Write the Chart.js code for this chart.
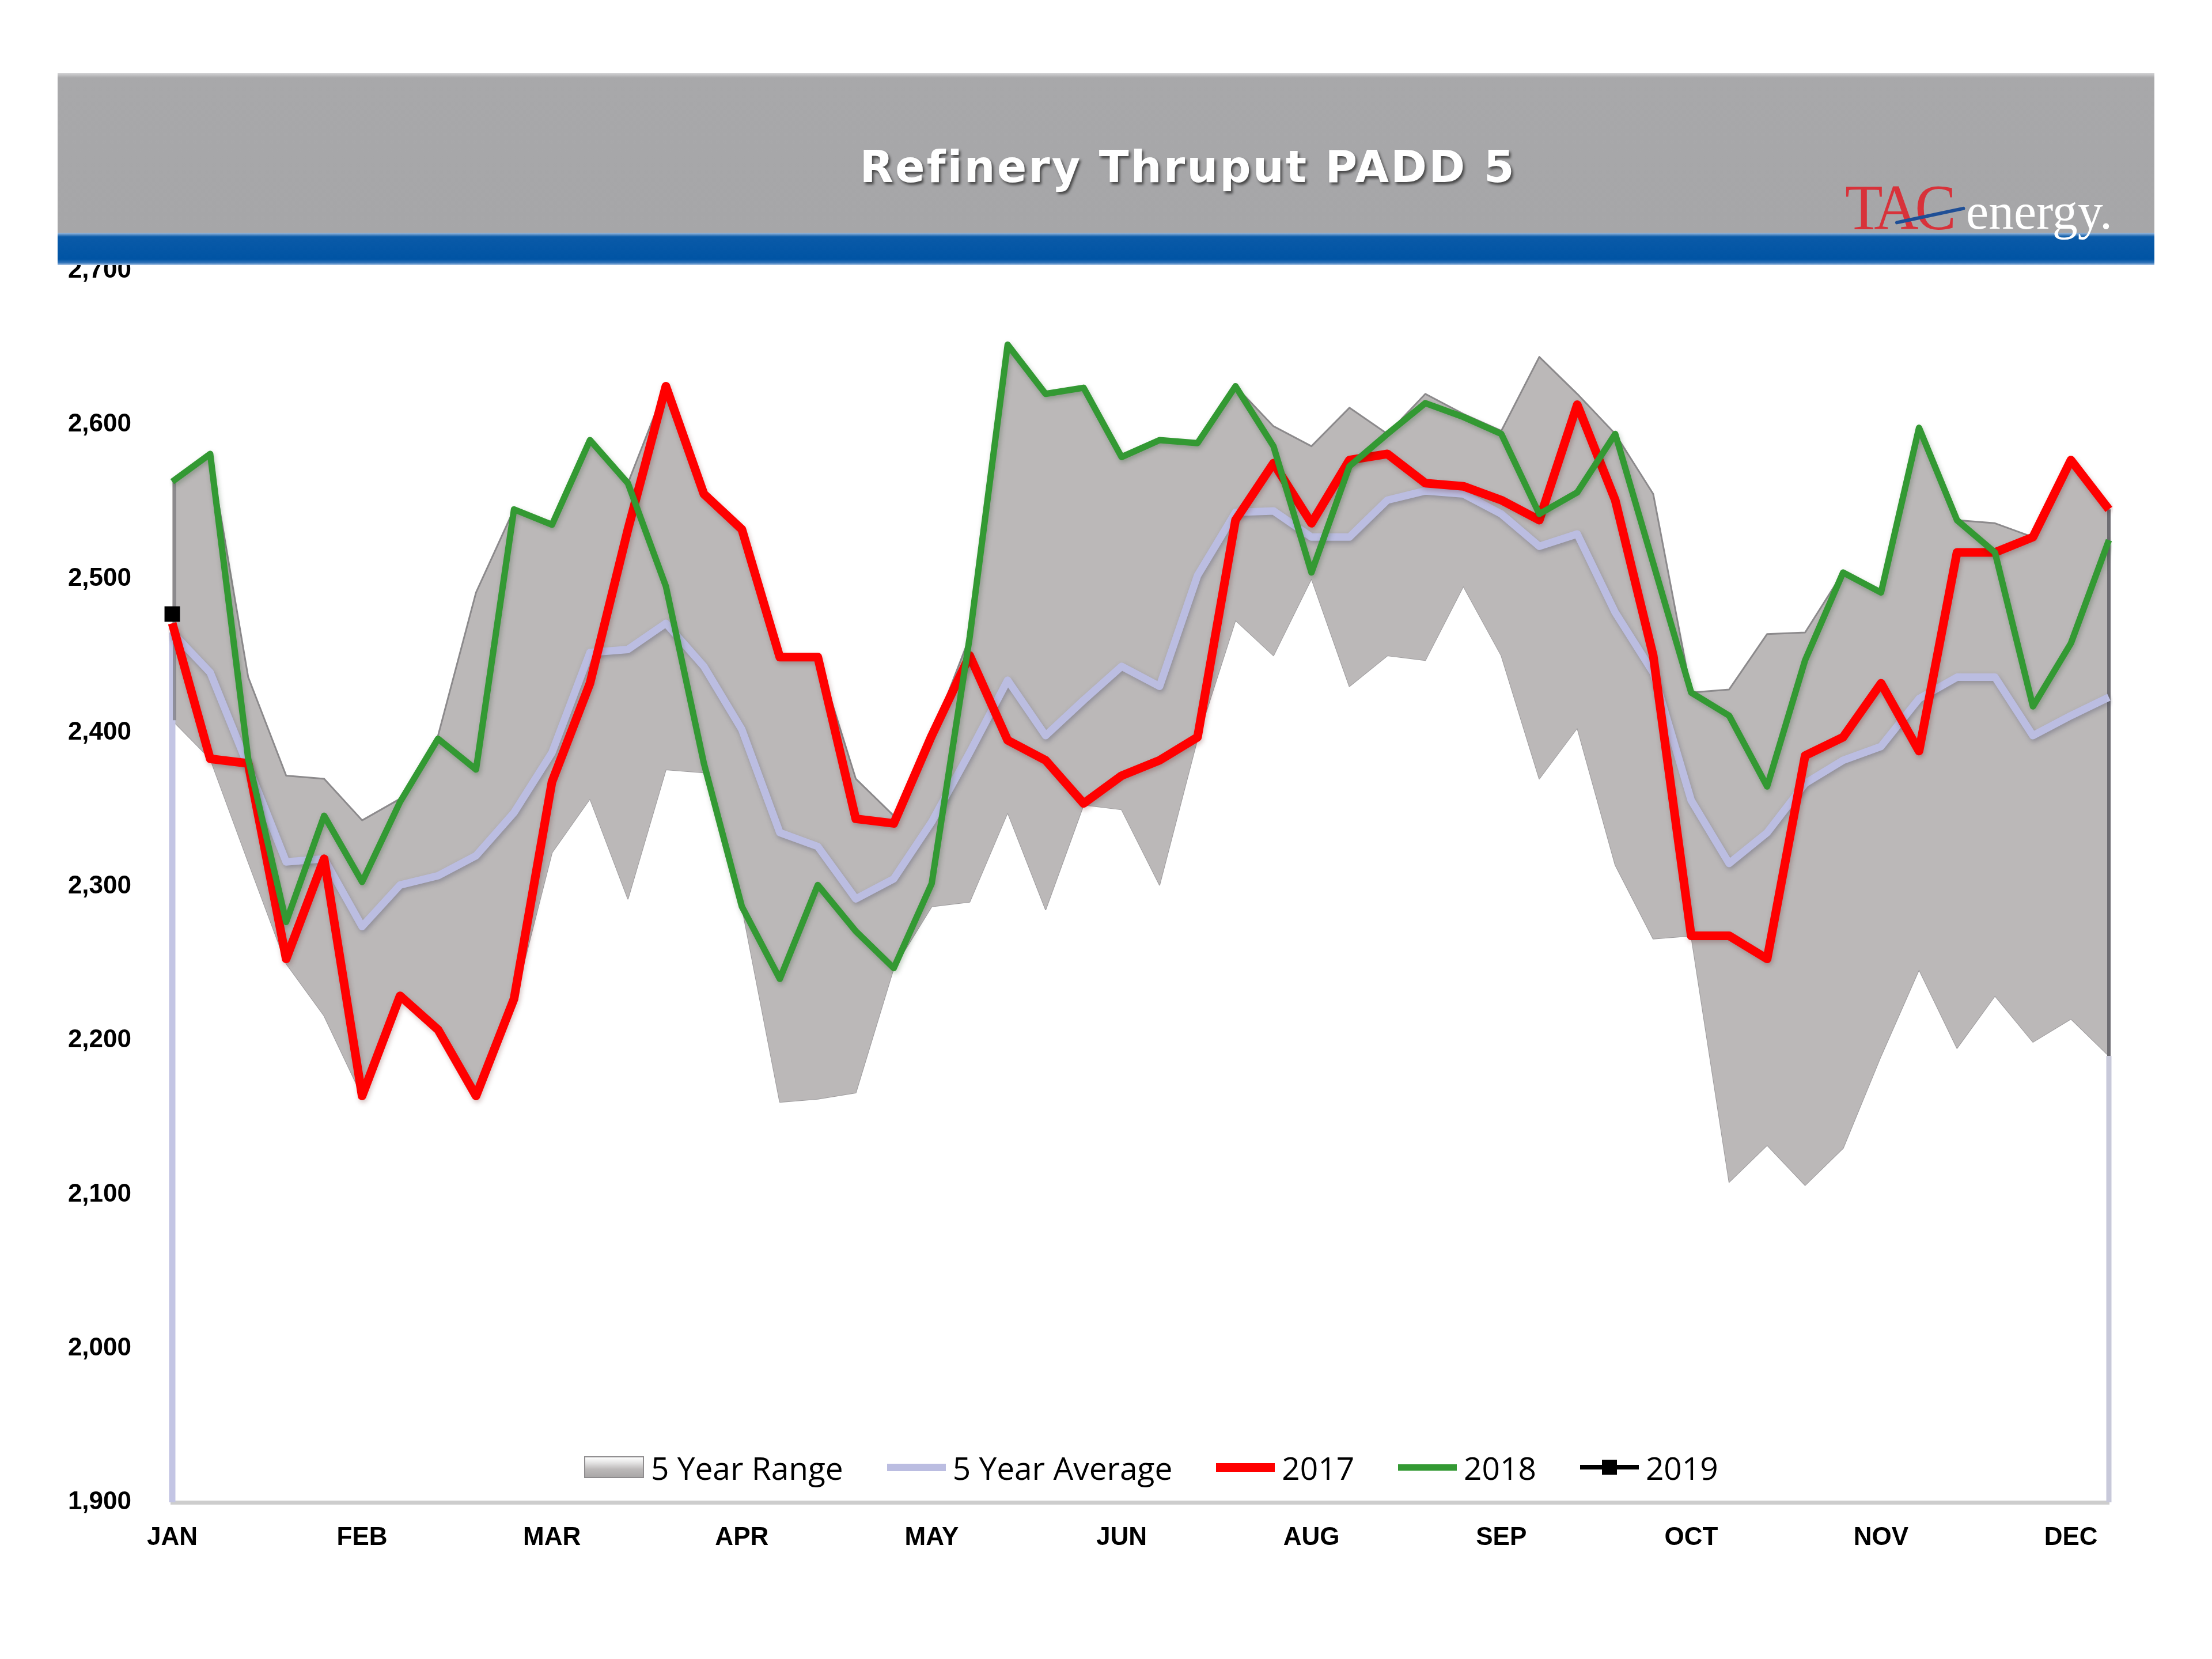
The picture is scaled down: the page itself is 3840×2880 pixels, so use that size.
<!DOCTYPE html>
<html>
<head>
<meta charset="utf-8">
<script src="https://cdn.jsdelivr.net/npm/chart.js@4.4.1/dist/chart.umd.min.js"></script>
<style>
  html, body { margin: 0; padding: 0; background: #ffffff; }
  #page { position: relative; width: 3840px; height: 2880px; overflow: hidden; background: #ffffff; }
  #chart { position: absolute; left: 0; top: 0; z-index: 1; }
  #banner { position: absolute; left: 100px; top: 127px; width: 3640px; height: 277px; z-index: 2;
    background: linear-gradient(#d2d2d4 0px, #a8a8aa 8px, #a6a6a8 100%); }
  #band { position: absolute; left: 100px; top: 404px; width: 3640px; height: 56px; z-index: 2;
    background: linear-gradient(#9fbde0 0px, #0a5aa8 7px, #0054a4 46px, #2f72b8 52px, #a9c4e4 56px); }
  #title { position: absolute; left: 2062px; top: 289px; transform: translate(-50%, -50%); z-index: 3;
    font-family: "DejaVu Sans", sans-serif; font-weight: bold; font-size: 76px; letter-spacing: 3px;
    color: #ffffff; white-space: nowrap; text-shadow: 3px 4px 4px rgba(40,40,40,0.75); }
  .logo { position: absolute; z-index: 3; white-space: nowrap; font-family: "Liberation Serif", serif; line-height: 1; }
  #logoTac { left: 3203px; top: 303px; color: #d8323a; font-size: 113px; letter-spacing: -7px;
    transform: scaleX(0.95); transform-origin: left; }
  #logoEn { left: 3413px; top: 324px; color: #ffffff; font-size: 88px; }
  #slash { position: absolute; left: 3290px; top: 384px; width: 124px; height: 6px; background: #1f4f96;
    transform: rotate(-12deg); transform-origin: left center; z-index: 4; border-radius: 3px; }
  #legend { position: absolute; left: 1014px; top: 2517px; height: 60px; z-index: 3; display: flex; align-items: center;
    font-family: "Open Sans", sans-serif; font-size: 55px; color: #000; white-space: nowrap; }
  .item { display: flex; align-items: center; margin-right: 76px; }
  .item .txt { margin-left: 12px; }
  .sw-box { width: 104px; height: 38px; box-sizing: border-box; border: 2px solid #8e8c8e;
    background: linear-gradient(#ffffff 0%, #e6e6e6 25%, #bdbaba 60%, #a9a7a7 100%); }
  .sw-line { position: relative; width: 102px; }
  .sw-mark { position: absolute; left: 38px; top: 50%; width: 26px; height: 26px; transform: translateY(-50%); background: #000; }
</style>
</head>
<body>
<div id="page">
  <canvas id="chart" width="3840" height="2880"></canvas>
  <div id="banner"></div>
  <div id="band"></div>
  <div id="title">Refinery Thruput PADD 5</div>
  <div id="logoTac" class="logo">TAC</div>
  <div id="logoEn" class="logo">energy.</div>
  <div id="slash"></div>
  <div id="legend"></div>
</div>
<script>
// ---- Data (weekly, 52 weeks) ----
const weekLabels = [
  'JAN','JAN','JAN','JAN','FEB','FEB','FEB','FEB','MAR','MAR','MAR','MAR','MAR',
  'APR','APR','APR','APR','MAY','MAY','MAY','MAY','JUN','JUN','JUN','JUN','JUN',
  'JUL','JUL','JUL','JUL','AUG','AUG','AUG','AUG','AUG','SEP','SEP','SEP','SEP',
  'OCT','OCT','OCT','OCT','NOV','NOV','NOV','NOV','NOV','DEC','DEC','DEC','DEC'
];
const tickEvery = 5;

const rangeHigh = [
  2563, 2581, 2436, 2372, 2370, 2343, 2357, 2398, 2491, 2545,
  2536, 2590, 2562, 2625, 2555, 2532, 2449, 2449, 2370, 2346,
  2398, 2462, 2652, 2620, 2624, 2579, 2590, 2588, 2625, 2599,
  2586, 2611, 2594, 2620, 2607, 2596, 2644, 2620, 2594, 2555,
  2426, 2428, 2464, 2465, 2504, 2491, 2598, 2538, 2536, 2527,
  2577, 2545
];
const rangeLow = [
  2408, 2383, 2316, 2250, 2216, 2164, 2229, 2207, 2164, 2225,
  2322, 2357, 2292, 2376, 2374, 2287, 2160, 2162, 2166, 2247,
  2287, 2290, 2348, 2285, 2353, 2350, 2301, 2396, 2473, 2450,
  2500, 2430, 2450, 2447, 2495, 2450, 2370, 2403, 2314, 2266,
  2268, 2108, 2132, 2106, 2130, 2190, 2246, 2195, 2229, 2199,
  2214, 2190
];
const avg5 = [
  2465, 2439, 2378, 2316, 2318, 2274, 2301, 2307, 2320, 2348,
  2387, 2452, 2454, 2471, 2443, 2402, 2335, 2326, 2292, 2305,
  2342, 2387, 2434, 2398, 2421, 2443, 2430, 2502, 2543, 2544,
  2527, 2527, 2551, 2557, 2555, 2542, 2521, 2529, 2478, 2439,
  2356, 2315, 2335, 2367, 2382, 2391, 2422, 2436, 2436, 2398,
  2411, 2423
];
const y2017 = [
  2471, 2383, 2380, 2253, 2318, 2164, 2229, 2207, 2164, 2227,
  2368, 2432, 2532, 2625, 2555, 2532, 2449, 2449, 2344, 2341,
  2398, 2450, 2395, 2382, 2354, 2372, 2382, 2397, 2538, 2575,
  2536, 2577, 2581, 2562, 2560, 2551, 2538, 2613, 2551, 2450,
  2268, 2268, 2253, 2385, 2397, 2432, 2388, 2517, 2517, 2527,
  2577, 2545
];
const y2018 = [
  2563, 2581, 2383, 2277, 2346, 2303, 2355, 2396, 2376, 2545,
  2535, 2590, 2562, 2495, 2380, 2287, 2240, 2301, 2271, 2247,
  2302, 2462, 2652, 2620, 2624, 2579, 2590, 2588, 2625, 2586,
  2504, 2573, 2594, 2614, 2605, 2594, 2542, 2556, 2594, 2510,
  2426, 2411, 2365, 2447, 2504, 2491, 2598, 2538, 2517, 2417,
  2458, 2525
];
const y2019 = [2477];

const yMin = 1900, yMax = 2700, yStep = 100;

// ---- Plugins ----
const shadowPlugin = {
  id: 'lineShadow',
  beforeDatasetDraw(chart, args) {
    const ds = chart.data.datasets[args.index];
    if (ds.shadowColor) {
      const c = chart.ctx;
      c.save();
      c.shadowColor = ds.shadowColor;
      c.shadowBlur = 8;
      c.shadowOffsetX = 2;
      c.shadowOffsetY = 4;
    }
  },
  afterDatasetDraw(chart, args) {
    const ds = chart.data.datasets[args.index];
    if (ds.shadowColor) chart.ctx.restore();
  }
};

const edgePlugin = {
  id: 'areaEdges',
  afterDatasetDraw(chart, args) {
    if (args.index !== 1) return;
    const { ctx, chartArea, scales: { x, y } } = chart;
    const n = rangeHigh.length - 1;
    const x0 = x.getPixelForValue(0), xn = x.getPixelForValue(n);
    ctx.save();
    ctx.lineCap = 'butt';
    ctx.strokeStyle = '#c3c5e4';
    ctx.lineWidth = 11;
    ctx.beginPath();
    ctx.moveTo(x0, y.getPixelForValue(avg5[0]));
    ctx.lineTo(x0, chartArea.bottom);
    ctx.stroke();
    ctx.strokeStyle = '#c8c9da';
    ctx.lineWidth = 9;
    ctx.beginPath();
    ctx.moveTo(xn, y.getPixelForValue(rangeLow[n]));
    ctx.lineTo(xn, chartArea.bottom);
    ctx.stroke();
    ctx.strokeStyle = '#6e6d73';
    ctx.lineWidth = 6;
    ctx.beginPath();
    ctx.moveTo(xn, y.getPixelForValue(rangeHigh[n]));
    ctx.lineTo(xn, y.getPixelForValue(rangeLow[n]));
    ctx.stroke();
    ctx.strokeStyle = 'rgba(120,118,122,0.7)';
    ctx.lineWidth = 6;
    ctx.beginPath();
    ctx.moveTo(x0 + 4, y.getPixelForValue(rangeHigh[0]));
    ctx.lineTo(x0 + 4, y.getPixelForValue(rangeLow[0]));
    ctx.stroke();
    ctx.restore();
  }
};

// ---- Chart ----
const tickFont = { family: 'Liberation Sans', weight: 'bold', size: 44 };
const chart = new Chart(document.getElementById('chart').getContext('2d'), {
  type: 'line',
  data: {
    labels: weekLabels,
    datasets: [
      { label: '5 Year Range (low)', data: rangeLow, borderColor: 'rgba(140,138,140,0.85)', borderWidth: 2,
        pointRadius: 0, fill: false, order: 6 },
      { label: '5 Year Range', data: rangeHigh, borderColor: '#8c8a8c', borderWidth: 3,
        backgroundColor: '#bbb8b8', fill: '-1', pointRadius: 0, order: 5 },
      { label: '5 Year Average', data: avg5, borderColor: '#bbbde1', borderWidth: 13, pointRadius: 0,
        fill: false, order: 4, shadowColor: 'rgba(60,60,90,0.35)' },
      { label: '2017', data: y2017, borderColor: '#ff0000', borderWidth: 15, pointRadius: 0,
        fill: false, order: 3, shadowColor: 'rgba(80,0,0,0.25)' },
      { label: '2018', data: y2018, borderColor: '#339933', borderWidth: 11, pointRadius: 0,
        fill: false, order: 2, shadowColor: 'rgba(0,50,0,0.25)' },
      { label: '2019', data: y2019, borderColor: '#000000', backgroundColor: '#000000', borderWidth: 6,
        pointStyle: 'rect', pointRadius: 19, pointBorderWidth: 0, fill: false, order: 1 }
    ]
  },
  options: {
    responsive: false,
    animation: false,
    devicePixelRatio: 1,
    layout: { padding: { left: 0, top: 470, right: 179, bottom: 172 } },
    elements: { line: { tension: 0, borderJoinStyle: 'round', borderCapStyle: 'butt' } },
    plugins: { legend: { display: false }, tooltip: { enabled: false }, title: { display: false } },
    scales: {
      x: {
        grid: { display: false, drawTicks: false },
        border: { display: true, color: '#cdcdcd', width: 7 },
        ticks: {
          autoSkip: false, maxRotation: 0, minRotation: 0, padding: 35, color: '#000000', font: tickFont,
          callback: (v, i) => (i % tickEvery === 0 ? weekLabels[i] : '')
        },
        afterFit(s) { s.height = 100; }
      },
      y: {
        min: yMin, max: yMax,
        grid: { display: false, drawTicks: false },
        border: { display: false },
        ticks: { stepSize: yStep, padding: 71, color: '#000000', font: tickFont,
          callback: v => Number(v).toLocaleString('en-US') },
        afterFit(s) { s.width = 299; }
      }
    }
  },
  plugins: [shadowPlugin, edgePlugin]
});

// ---- HTML legend built from datasets ----
const legend = document.getElementById('legend');
const legendOrder = [1, 2, 3, 4, 5];
legendOrder.forEach(idx => {
  const ds = chart.data.datasets[idx];
  const item = document.createElement('div');
  item.className = 'item';
  const sw = document.createElement('div');
  if (idx === 1) {
    sw.className = 'sw-box';
  } else {
    sw.className = 'sw-line';
    sw.style.height = Math.max(ds.borderWidth, 8) + 'px';
    sw.style.background = ds.borderColor;
    if (ds.pointStyle === 'rect') {
      const m = document.createElement('div');
      m.className = 'sw-mark';
      sw.appendChild(m);
    }
  }
  const t = document.createElement('span');
  t.className = 'txt';
  t.textContent = ds.label;
  item.appendChild(sw);
  item.appendChild(t);
  legend.appendChild(item);
});
</script>
</body>
</html>
